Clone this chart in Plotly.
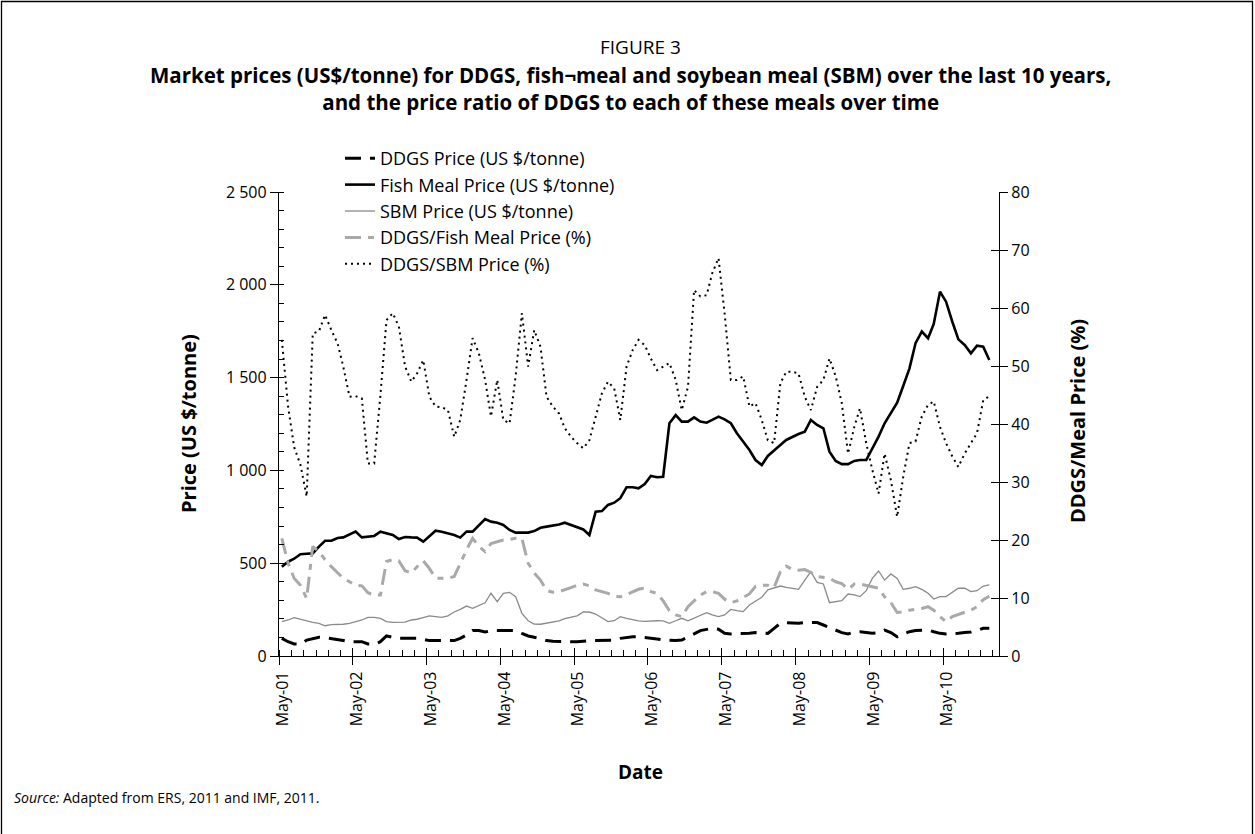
import plotly.graph_objects as go
import pandas as pd

# ---------------- data (monthly, May 2001 - Dec 2010) ----------------
dates = [d + pd.Timedelta(days=14) for d in pd.date_range("2001-05-01", periods=116, freq="MS")]

ddgs_price = [95, 77, 65, 63, 86, 95, 101, 99, 95, 90, 84, 77, 77, 77, 65, 63, 77, 108, 101, 95,
              95, 95, 95, 90, 83, 83, 83, 83, 83, 95, 113, 137, 137, 129, 137, 137, 137, 137, 137,
              122, 108, 101, 90, 83, 79, 77, 77, 77, 77, 81, 83, 83, 83, 83, 86, 95, 101, 104, 104,
              101, 95, 92, 86, 83, 83, 86, 101, 119, 137, 144, 149, 144, 122, 119, 119, 122, 122, 126,
              122, 122, 149, 176, 180, 176, 176, 180, 181, 180, 167, 154, 137, 126, 119, 129, 131, 126,
              122, 126, 140, 126, 104, 119, 131, 137, 137, 140, 131, 122, 119, 119, 122, 126, 129, 137,
              149, 149]

fish_price = [481, 508, 524, 548, 551, 553, 589, 621, 621, 636, 639, 657, 670, 639, 643, 647, 670, 661,
              652, 630, 641, 639, 638, 616, 643, 675, 670, 661, 652, 638, 670, 670, 706, 738, 724, 718,
              706, 679, 665,
              665, 665, 673, 691, 697, 702, 709, 718, 706, 697, 682, 652, 778, 781, 814, 826, 850, 909,
              909, 903, 927, 970, 963, 966, 1254, 1298, 1263, 1263, 1286, 1263, 1257, 1272, 1290, 1275,
              1254, 1200, 1155, 1110, 1056,
              1029, 1078, 1110, 1137, 1164, 1182, 1196, 1209, 1272, 1245, 1227, 1101, 1051, 1034, 1034,
              1051, 1056, 1056, 1114, 1182, 1254, 1307, 1365, 1455, 1550, 1685, 1748, 1712, 1789, 1963,
              1909, 1801, 1706, 1676, 1631, 1672, 1667, 1595]

sbm_price = [185, 194, 207, 198, 189, 181, 176, 163, 169, 169, 171, 176, 183, 194, 208, 208, 203, 185,
             181, 181, 183, 194, 198, 207, 216, 212, 208, 216, 237, 251, 269, 257, 273, 287, 338, 293,
             338, 343, 320,
             230, 190, 172, 171, 176, 181, 189, 201, 208, 216, 237, 237, 226, 205, 185, 190, 212, 203,
             194, 189, 187, 190, 190, 189, 176, 190, 203, 190, 203, 216, 233, 221, 212, 221, 251, 244,
             239, 275, 293,
             316, 356, 365, 377, 370, 365, 359, 409, 454, 397, 388, 287, 293, 298, 334, 329, 320, 352,
             418, 458, 409, 442, 418, 359, 365, 374, 359, 338, 307, 320, 320, 341, 365, 365, 347, 352,
             377, 383]

ddgs_fish_pct = [20.3, 16, 13.4, 12.2, 9.9, 18.9, 18, 16.6, 15.4, 14.4, 13.4, 12.8, 12.2, 12.1, 10.9,
                 10.5, 10.5, 16.3, 16.6, 16.4, 14.7, 14.3, 15.4, 16.4, 15.1, 13.4, 13.4, 13.4, 13.7, 16,
                 18.3, 20.3, 18.9, 18, 19.4, 19.7, 20, 20.1, 20.3,
                 20.3, 16, 14.3, 13.1, 11.3, 11, 11.1, 11.4, 11.8, 12.2, 12.4, 12.1, 11.4, 11.1, 10.8,
                 10.3, 10.2, 10.6, 11.1, 11.5, 11.7, 11.1, 10.8, 9.5, 7.8, 7.1, 6.8, 8.5, 9.5, 10.5,
                 11.1, 11.1, 10.8, 9.8, 9.2, 9.5, 10.1, 10.7, 12,
                 12.2, 12.2, 11.8, 14.5, 15.5, 14.9, 14.8, 14.9, 14.4, 13.7, 13.6, 13.4, 12.8, 12.5,
                 11.5, 12.4, 12.4, 12.2, 12, 11.7, 10.2, 9.2, 7.5, 7.6, 7.9, 8, 8.2, 8.5, 7.9, 6.8,
                 5.9, 6.8, 7.2, 7.6, 7.9, 8.5, 9.7, 10.3]

ddgs_sbm_pct = [54.5, 43, 36, 33, 27.5, 55.6, 56, 58.8, 56.2, 53.9, 49.9, 44.7, 44.8, 44.4, 33.2, 33.2,
                45, 57.9, 59.1, 56.8, 49.9, 47.3, 48.7, 51, 44.7, 43, 42.9, 42.4, 37.8, 40.7, 47.6,
                54.8, 52.2, 47.6, 41.3, 47.6, 40.7, 40.1, 48.2,
                59.1, 49.9, 56.2, 53.3, 44.7, 43, 41.8, 39.3, 37.8, 36.7, 35.8, 37.2, 41.3, 45.3, 47.3,
                46.1, 40.7, 49.9, 52.8, 54.5, 53.6, 51.3, 49.3, 49.9, 50.5, 47.6, 42.4, 46.4, 63.1, 62,
                62.2, 66, 68.6, 59.1, 47.6, 47.6, 48.2, 43, 43.6,
                40.7, 37.2, 36.7, 47, 49, 49, 48.7, 44.7, 42.4, 46.4, 47.6, 51.3, 48.2, 43.6, 34.9,
                39.5, 42.7, 36.7, 32.1, 28, 34.9, 30.3, 24, 30.9, 36.7, 37, 41.3, 43.3, 43.9, 39.5,
                36.7, 34.4, 32.6, 34.9, 36.7, 38.4, 44.1, 44.8]

left_ticks = [0, 500, 1000, 1500, 2000, 2500]
left_ticktext = ["0", "500", "1 000", "1 500", "2 000", "2 500"]
right_ticks = [0, 10, 20, 30, 40, 50, 60, 70, 80]

# ---------------- layout geometry ----------------
W, H = 1255, 834
PL, PR, PT, PB = 279, 999, 192, 656
FONT = "Open Sans"


def px(x):
    return (x - PL) / (PR - PL)


def py(y):
    return (PB - y) / (PB - PT)


fig = go.Figure()

fig.add_trace(go.Scatter(x=dates, y=ddgs_price, name="DDGS Price (US $/tonne)", mode="lines",
                         line=dict(color="black", width=3, dash="16px,9px"), legendgroup="a"))
fig.add_trace(go.Scatter(x=dates, y=fish_price, name="Fish Meal Price (US $/tonne)", mode="lines",
                         line=dict(color="black", width=2.6), legendgroup="b"))
fig.add_trace(go.Scatter(x=dates, y=sbm_price, name="SBM Price (US $/tonne)", mode="lines",
                         line=dict(color="#8a8a8a", width=1.3), legendgroup="c"))
fig.add_trace(go.Scatter(x=dates, y=ddgs_fish_pct, name="DDGS/Fish Meal Price (%)", mode="lines",
                         yaxis="y2", line=dict(color="#a9a9a9", width=3, dash="16px,7px,6px,7px"),
                         legendgroup="d"))
fig.add_trace(go.Scatter(x=dates, y=ddgs_sbm_pct, name="DDGS/SBM Price (%)", mode="lines",
                         yaxis="y2", line=dict(color="black", width=2, dash="2px,4px"), legendgroup="e"))
# empty traces so the overlay axes (inner half of crossing ticks) are drawn
fig.add_trace(go.Scatter(x=[], y=[], xaxis="x2", yaxis="y3", showlegend=False, hoverinfo="skip"))
fig.add_trace(go.Scatter(x=[], y=[], xaxis="x2", yaxis="y4", showlegend=False, hoverinfo="skip"))

xr = ["2001-05-01", "2011-02-01"]
common_font = dict(family=FONT, size=16, color="black")

fig.update_layout(
    width=W, height=H, autosize=False,
    margin=dict(l=PL, r=W - PR, t=PT, b=H - PB, pad=0),
    paper_bgcolor="white", plot_bgcolor="white",
    font=common_font,
    showlegend=True,
    legend=dict(x=px(340), y=py(140), xanchor="left", yanchor="top", bgcolor="rgba(0,0,0,0)",
                font=dict(family=FONT, size=18, color="black"), tracegroupgap=3, traceorder="normal"),
    xaxis=dict(type="date", range=xr, showgrid=False, zeroline=False, showline=True,
               linecolor="black", linewidth=1.3, ticks="outside", ticklen=8, tickcolor="black",
               tickwidth=1.3, tick0="2001-05-01", dtick="M12", tickformat="%b-%y", tickangle=-90,
               ticklabelshift=4,
               tickfont=dict(family=FONT, size=16, color="black"),
               minor=dict(ticks="inside", ticklen=6, dtick="M2", tick0="2001-05-01",
                          tickcolor="black", tickwidth=1, showgrid=False)),
    xaxis2=dict(type="date", range=xr, overlaying="x", anchor="y", side="bottom", showgrid=False,
                zeroline=False, showline=False, ticks="inside", ticklen=8, tickcolor="black",
                tickwidth=1.3, tick0="2001-05-01", dtick="M12", showticklabels=False),
    yaxis=dict(range=[0, 2500], tickvals=left_ticks, ticktext=left_ticktext, showgrid=False,
               zeroline=False, showline=True, linecolor="black", linewidth=1.3, ticks="outside",
               ticklen=8, tickcolor="black", tickwidth=1.3,
               tickfont=dict(family=FONT, size=16, color="black"),
               minor=dict(ticks="inside", ticklen=5, dtick=100, tick0=0, tickcolor="black",
                          tickwidth=1, showgrid=False)),
    yaxis2=dict(range=[0, 80], tickvals=right_ticks, overlaying="y", side="right", anchor="x",
                showgrid=False, zeroline=False, showline=True, linecolor="black", linewidth=1.3,
                ticks="outside", ticklen=8, tickcolor="black", tickwidth=1.3,
                tickfont=dict(family=FONT, size=16, color="black")),
    yaxis3=dict(range=[0, 2500], tickvals=left_ticks, overlaying="y", side="left", anchor="x2",
                showgrid=False, zeroline=False, showline=False, ticks="inside", ticklen=3,
                tickcolor="black", tickwidth=1.3, showticklabels=False),
    yaxis4=dict(range=[0, 80], tickvals=right_ticks, overlaying="y", side="right", anchor="x2",
                showgrid=False, zeroline=False, showline=False, ticks="inside", ticklen=8,
                tickcolor="black", tickwidth=1.3, showticklabels=False),
)

ann = [
    dict(text="FIGURE 3", x=px(640), y=py(47), font=dict(family=FONT, size=19, color="black")),
    dict(text="<b>Market prices (US$/tonne) for DDGS, fish¬meal and soybean meal (SBM) over the last 10 years,"
              "<br>and the price ratio of DDGS to each of these meals over time</b>",
         x=px(630), y=py(88.5), font=dict(family=FONT, size=20.5, color="black")),
    dict(text="<b>Price (US $/tonne)</b>", x=px(188), y=py(424), textangle=-90,
         font=dict(family=FONT, size=20, color="black")),
    dict(text="<b>DDGS/Meal Price (%)</b>", x=px(1077), y=py(421), textangle=-90,
         font=dict(family=FONT, size=20, color="black")),
    dict(text="<b>Date</b>", x=px(640), y=py(772), font=dict(family=FONT, size=19, color="black")),
    dict(text="<i>Source:</i> Adapted from ERS, 2011 and IMF, 2011.", x=px(12), y=py(798),
         xanchor="left", font=dict(family=FONT, size=14, color="black")),
]
for a in ann:
    a.setdefault("xanchor", "center")
    a.update(xref="paper", yref="paper", yanchor="middle", showarrow=False)
fig.update_layout(annotations=ann)

# outer frame (bottom edge falls below the page, as in the reference)
fig.add_shape(type="rect", xref="paper", yref="paper", x0=px(1.5), x1=px(1252.5), y0=py(900), y1=py(1.5),
              line=dict(color="black", width=1.3), fillcolor="rgba(0,0,0,0)", layer="above")

fig.write_html("out.html", config={"displayModeBar": False},
               post_script="document.body.style.margin='0px';")
